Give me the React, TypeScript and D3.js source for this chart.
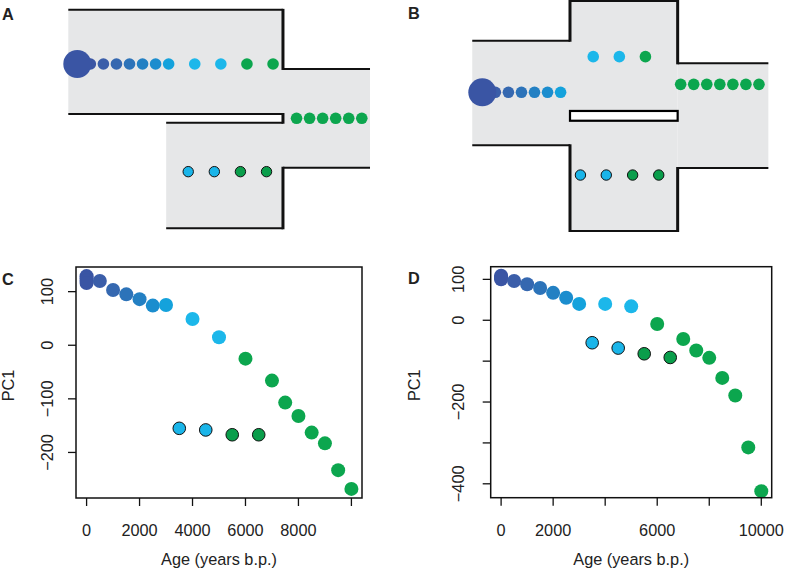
import React from 'react';
import * as d3 from 'd3';

const W = 787, H = 571;
const FONT = '"Liberation Sans", Arial, Helvetica, sans-serif';

// ---- Scatter data (panels C and D) ----
const ages = [0, 0, 0, 0, 500, 1000, 1500, 2000, 2500, 3000, 4000, 5000, 6000, 7000, 7500, 8000, 8500, 9000, 9500, 10000];
const pc1C = [129, 125, 121, 116, 120, 103, 95, 86, 74, 75, 49, 15, -25, -66, -107, -132, -163, -183, -233, -268];
const pc1D = [109, 106, 103, 100, 96, 88, 79, 67, 55, 40, 40, 34, -9, -46, -74, -92, -141, -184, -311, -418];
const sideAges = [3500, 4500, 5500, 6500];
const sidePc1C = [-155, -158, -167, -167];
const sidePc1D = [-55, -68, -82, -91];

const xTicksC = [0, 2000, 4000, 6000, 8000, 10000];
const xLabelsC = ['0', '2000', '4000', '6000', '8000', ''];
const yTicksC = [100, 0, -100, -200];
const yLabelsC = ['100', '0', '\u2212100', '\u2212200'];
const xTicksD = [0, 2000, 4000, 6000, 8000, 10000];
const xLabelsD = ['0', '2000', '', '6000', '', '10000'];
const yTicksD = [100, 0, -100, -200, -300, -400];
const yLabelsD = ['100', '0', '', '\u2212200', '', '\u2212400'];

// ---- colours by age ----
const colorAges = [0, 500, 1000, 1500, 2000, 2500, 3000, 3500, 4000, 4500, 5000];
const colorHex = ['#3a55a4', '#3b5ea9', '#3568b0', '#2c73b9', '#2380c3', '#1b8dce', '#14a2dc', '#1ab5e9', '#1cb7ea', '#1ab5e9', '#1cb7ea'];
const GREEN = '#0ca64e';
const GREEN_DARK = '#0a9e4b';
const colorOf = (age: number, outlined = false) => {
  const i = colorAges.indexOf(age);
  if (i >= 0) return colorHex[i];
  return outlined ? GREEN_DARK : GREEN;
};

// ---- Schematic data (panels A and B), in grid units ----
// Panel A
const aTopSlots = [1, 2, 3, 4, 5, 6, 7, 9, 11, 13, 15];
const aTopAges = [0, 500, 1000, 1500, 2000, 2500, 3000, 4000, 5000, 6000, 7000];
const aRightSlots = [16.8, 17.8, 18.8, 19.8, 20.8, 21.8];
const aRightAges = [7500, 8000, 8500, 9000, 9500, 10000];
const aLowSlots = [8.5, 10.5, 12.5, 14.5];
const aRows = [0, 4.16, 8.25];
const aU = [-0.69, 15.76, 22.43, 6.81]; // L, M, R, N
const aV = [-4.15, 0.38, 3.83, 4.5, 7.95, 12.59]; // top, chTop, upBot, lowTop, chBot, bot
// Panel B
const bTopSlots = [1, 2, 3, 4, 5, 6];
const bTopAges = [500, 1000, 1500, 2000, 2500, 3000];
const bMidSlots = [8.5, 10.5, 12.5];
const bMidAges = [4000, 5000, 6000];
const bRightSlots = [15.2, 16.2, 17.2, 18.2, 19.2, 20.2, 21.2];
const bRightAges = [7000, 7500, 8000, 8500, 9000, 9500, 10000];
const bLowSlots = [7.52, 9.5, 11.52, 13.52];
const bRows = [0, -2.73, -0.61, 6.34]; // top, mid, right, low
const bU = [-0.77, 6.72, 14.97, 21.92]; // L, M1, M2, R
const bV = [-7.0, -3.95, -2.22, 1.43, 2.18, 4.06, 5.8, 10.63];

const GRID = 13.05;
const FILL = '#e6e7e8';

type Seg = [number, number, number, number];

function Schematic({ x0, y0, rects, hSegs, vSegs, bar, dots }: any) {
  const sx = d3.scaleLinear().domain([0, 1]).range([x0, x0 + GRID]);
  const sy = d3.scaleLinear().domain([0, 1]).range([y0, y0 + GRID]);
  return (
    <g>
      {rects.map((r: Seg, i: number) => (
        <rect key={'r' + i} x={sx(r[0])} y={sy(r[1])} width={sx(r[2]) - sx(r[0])} height={sy(r[3]) - sy(r[1])} fill={FILL} />
      ))}
      {bar && (
        <rect x={sx(bar[0])} y={sy(bar[1])} width={sx(bar[2]) - sx(bar[0])} height={sy(bar[3]) - sy(bar[1])} fill="#fff" stroke="#000" strokeWidth={2.2} />
      )}
      {hSegs.map((s: Seg, i: number) => (
        <line key={'h' + i} x1={sx(s[0])} y1={sy(s[1])} x2={sx(s[2])} y2={sy(s[3])} stroke="#111" strokeWidth={2} />
      ))}
      {vSegs.map((s: Seg, i: number) => (
        <line key={'v' + i} x1={sx(s[0])} y1={sy(s[1]) - 1} x2={sx(s[2])} y2={sy(s[3]) + 1} stroke="#111" strokeWidth={3} />
      ))}
      {dots.map((d: any, i: number) => (
        <circle key={'d' + i} cx={sx(d.u)} cy={sy(d.v)} r={d.r} fill={d.fill} stroke={d.outlined ? '#111' : 'none'} strokeWidth={1} />
      ))}
    </g>
  );
}

function Scatter({ box, xDomain, yDomain, yMain, ySide, xTicks, xLabels, yTicks, yLabels, yLabelX, pcX }: any) {
  const [l, t, r, b] = box;
  const x = d3.scaleLinear().domain(xDomain).range([l, r]);
  const y = d3.scaleLinear().domain(yDomain).range([b, t]);
  const tick = 8;
  return (
    <g fontFamily={FONT} fontSize={16.3} fill="#222">
      {ages.map((a, i) => (
        <circle key={'m' + i} cx={x(a)} cy={y(yMain[i])} r={7} fill={colorOf(a)} />
      ))}
      {sideAges.map((a, i) => (
        <circle key={'s' + i} cx={x(a)} cy={y(ySide[i])} r={6.3} fill={colorOf(a, true)} stroke="#111" strokeWidth={1} />
      ))}
      <rect x={l} y={t} width={r - l} height={b - t} fill="none" stroke="#111" strokeWidth={1.5} />
      {xTicks.map((v: number, i: number) => (
        <g key={'xt' + i}>
          <line x1={x(v)} x2={x(v)} y1={b} y2={b + tick} stroke="#111" strokeWidth={1.3} />
          {xLabels[i] && <text x={x(v)} y={536} textAnchor="middle">{xLabels[i]}</text>}
        </g>
      ))}
      {yTicks.map((v: number, i: number) => (
        <g key={'yt' + i}>
          <line x1={l - tick} x2={l} y1={y(v)} y2={y(v)} stroke="#111" strokeWidth={1.3} />
          {yLabels[i] && (
            <text transform={`translate(${yLabelX},${y(v)}) rotate(-90)`} textAnchor="middle">{yLabels[i]}</text>
          )}
        </g>
      ))}
      <text x={(l + r) / 2} y={565} textAnchor="middle">Age (years b.p.)</text>
      <text transform={`translate(${pcX},${(t + b) / 2 + 3}) rotate(-90)`} textAnchor="middle">PC1</text>
    </g>
  );
}

export default function App() {
  // Panel A geometry
  const [aL, aM, aR, aN] = aU;
  const [aTop, aChTop, aUpBot, aLowTop, aChBot, aBot] = aV;
  const aRects: Seg[] = [
    [aL, aTop, aM, aUpBot],
    [aM, aChTop, aR, aChBot],
    [aN, aLowTop, aM, aBot],
  ];
  const aH: Seg[] = [
    [aL, aTop, aM, aTop],
    [aM, aChTop, aR, aChTop],
    [aL, aUpBot, aM, aUpBot],
    [aN, aLowTop, aM, aLowTop],
    [aM, aChBot, aR, aChBot],
    [aN, aBot, aM, aBot],
  ];
  const aVs: Seg[] = [
    [aM, aTop, aM, aChTop],
    [aM, aUpBot, aM, aLowTop],
    [aM, aChBot, aM, aBot],
  ];
  const aDots = [
    ...aTopSlots.map((u, i) => ({ u, v: aRows[0], r: 5.8, fill: colorOf(aTopAges[i]) })),
    { u: 0, v: aRows[0], r: 14, fill: colorOf(0) },
    ...aRightSlots.map((u, i) => ({ u, v: aRows[1], r: 5.8, fill: colorOf(aRightAges[i]) })),
    ...aLowSlots.map((u, i) => ({ u, v: aRows[2], r: 5.2, fill: colorOf(sideAges[i], true), outlined: true })),
  ];

  // Panel B geometry
  const [bL, bM1, bM2, bR] = bU;
  const [bBlockTop, bChLTop, bChRTop, bBarTop, bBarBot, bChLBot, bChRBot, bBlockBot] = bV;
  const bRects: Seg[] = [
    [bL, bChLTop, bM1, bChLBot],
    [bM1, bBlockTop, bM2, bBlockBot],
    [bM2, bChRTop, bR, bChRBot],
  ];
  const bH: Seg[] = [
    [bL, bChLTop, bM1, bChLTop],
    [bM1, bBlockTop, bM2, bBlockTop],
    [bM2, bChRTop, bR, bChRTop],
    [bL, bChLBot, bM1, bChLBot],
    [bM1, bBlockBot, bM2, bBlockBot],
    [bM2, bChRBot, bR, bChRBot],
  ];
  const bVs: Seg[] = [
    [bM1, bBlockTop, bM1, bChLTop],
    [bM2, bBlockTop, bM2, bChRTop],
    [bM1, bChLBot, bM1, bBlockBot],
    [bM2, bChRBot, bM2, bBlockBot],
  ];
  const bDots = [
    ...bTopSlots.map((u, i) => ({ u, v: bRows[0], r: 5.8, fill: colorOf(bTopAges[i]) })),
    { u: 0, v: bRows[0], r: 14, fill: colorOf(0) },
    ...bMidSlots.map((u, i) => ({ u, v: bRows[1], r: 5.8, fill: colorOf(bMidAges[i]) })),
    ...bRightSlots.map((u, i) => ({ u, v: bRows[2], r: 5.8, fill: colorOf(bRightAges[i]) })),
    ...bLowSlots.map((u, i) => ({ u, v: bRows[3], r: 5.2, fill: colorOf(sideAges[i], true), outlined: true })),
  ];

  return (
    <svg width={W} height={H} style={{ position: 'absolute', left: 0, top: 0, background: '#fff' }}>
      <Schematic x0={77.3} y0={64} rects={aRects} hSegs={aH} vSegs={aVs} dots={aDots} />
      <Schematic x0={482.3} y0={92.3} rects={bRects} hSegs={bH} vSegs={bVs} bar={[bM1, bBarTop, bM2, bBarBot]} dots={bDots} />
      <Scatter box={[76, 267, 362, 498]} xDomain={[-400, 10400]} yDomain={[-285, 146]}
        yMain={pc1C} ySide={sidePc1C} xTicks={xTicksC} xLabels={xLabelsC} yTicks={yTicksC} yLabels={yLabelsC}
        yLabelX={53} pcX={13.5} />
      <Scatter box={[490.7, 266.7, 771.7, 497.7]} xDomain={[-400, 10400]} yDomain={[-434, 131]}
        yMain={pc1D} ySide={sidePc1D} xTicks={xTicksD} xLabels={xLabelsD} yTicks={yTicksD} yLabels={yLabelsD}
        yLabelX={463.5} pcX={420} />
      <g fontFamily={FONT} fontWeight="bold" fontSize={16.3} fill="#222">
        <text x={2} y={20}>A</text>
        <text x={408} y={19.3}>B</text>
        <text x={2} y={285}>C</text>
        <text x={408} y={284}>D</text>
      </g>
    </svg>
  );
}
